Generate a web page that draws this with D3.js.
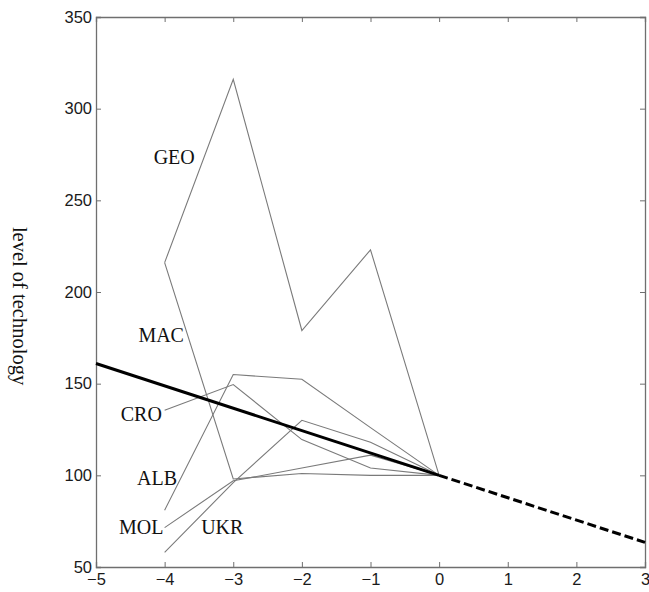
<!DOCTYPE html>
<html><head><meta charset="utf-8">
<script src="https://cdn.jsdelivr.net/npm/d3@7"></script>
<style>body{margin:0;background:#fff}</style>
</head><body>
<svg id="c" width="649" height="592"></svg>
<script>
const years = [-4, -3, -2, -1, 0];
const GEO = [216, 316, 179, 223, 100];
const MAC = [216, 98, 101, 100, 100];
const CRO = [135.5, 149.5, 119.5, 104, 100];
const ALB = [81, 155, 152.4, 126, 100];
const MOL = [71.5, 97, 104, 111, 100];
const UKR = [58, 96, 130, 118, 100];
const countryNames = ["GEO", "MAC", "CRO", "ALB", "MOL", "UKR"];
const labelX = [-3.86, -4.05, -4.34, -4.11, -4.34, -3.16];
const labelY = [273.6, 176.5, 133.4, 98.5, 71.8, 72];
const trendX = [-5, 0];
const trendY = [161, 100];
const forecastX = [0, 3];
const forecastY = [100, 63.4];
const xTicks = [-5, -4, -3, -2, -1, 0, 1, 2, 3];
const yTicks = [50, 100, 150, 200, 250, 300, 350];

const series = [GEO, MAC, CRO, ALB, MOL, UKR];
const svg = d3.select("#c");
const L = 96, R = 645, T = 17, B = 567;
const x = d3.scaleLinear().domain([-5, 3]).range([L, R]);
const y = d3.scaleLinear().domain([50, 350]).range([B, T]);
const axisColor = "#6f6f6f";

function styleAxis(g, showText) {
  g.select(".domain").attr("stroke", axisColor).attr("stroke-width", 1.3);
  g.selectAll(".tick line").attr("stroke", axisColor).attr("stroke-width", 1);
  g.selectAll(".tick text").attr("fill", "#1a1a1a")
    .style("font-family", "Liberation Sans, Arial, sans-serif").style("font-size", "16.5px");
  if (!showText) g.selectAll(".tick text").remove();
}
const gx = svg.append("g").attr("transform", `translate(0,${B})`)
  .call(d3.axisBottom(x).tickValues(xTicks).tickSize(-5).tickPadding(6).tickFormat(d3.format("d")));
styleAxis(gx, true);
const gxt = svg.append("g").attr("transform", `translate(0,${T})`)
  .call(d3.axisTop(x).tickValues(xTicks).tickSize(-5));
styleAxis(gxt, false);
const gy = svg.append("g").attr("transform", `translate(${L},0)`)
  .call(d3.axisLeft(y).tickValues(yTicks).tickSize(-5).tickPadding(4));
styleAxis(gy, true);
const gyr = svg.append("g").attr("transform", `translate(${R},0)`)
  .call(d3.axisRight(y).tickValues(yTicks).tickSize(-5));
styleAxis(gyr, false);

const line = d3.line().x(d => x(d[0])).y(d => y(d[1]));
series.forEach(s => {
  svg.append("path").datum(years.map((yr, i) => [yr, s[i]]))
    .attr("d", line).attr("fill", "none").attr("stroke", "#7a7a7a").attr("stroke-width", 1.1);
});
svg.append("path").datum(trendX.map((v, i) => [v, trendY[i]]))
  .attr("d", line).attr("fill", "none").attr("stroke", "#000").attr("stroke-width", 3);
svg.append("path").datum(forecastX.map((v, i) => [v, forecastY[i]]))
  .attr("d", line).attr("fill", "none").attr("stroke", "#000").attr("stroke-width", 3)
  .attr("stroke-dasharray", "9,4");

countryNames.forEach((n, i) => {
  svg.append("text").attr("x", x(labelX[i])).attr("y", y(labelY[i]))
    .attr("text-anchor", "middle").attr("dominant-baseline", "central")
    .style("font-family", "Liberation Serif, Times New Roman, serif").style("font-size", "20px")
    .attr("fill", "#111").text(n);
});

svg.append("text").attr("transform", "translate(20,306) rotate(90)")
  .attr("text-anchor", "middle").attr("dominant-baseline", "central")
  .style("font-family", "Liberation Serif, Times New Roman, serif").style("font-size", "20.5px")
  .attr("fill", "#111").text("level of technology");
</script>
</body></html>
